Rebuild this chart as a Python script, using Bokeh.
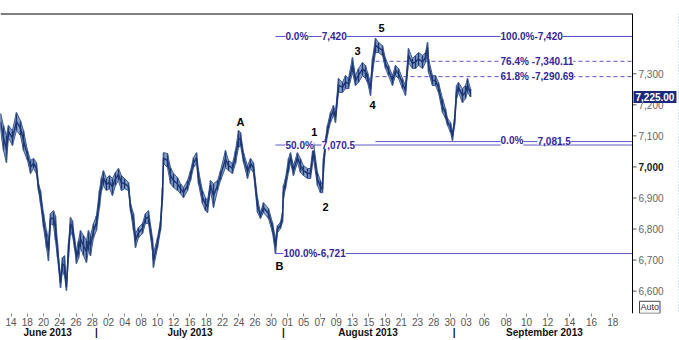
from bokeh.plotting import figure
from bokeh.models import FixedTicker, LinearAxis, Label, Span, Range1d
from bokeh.core.properties import value
from bokeh.embed import file_html
from bokeh.resources import INLINE

# ---- price data (trading-day index from 14 June 2013, high / low) ----
t = [-1.30, -0.93, -0.57, -0.32, 0.17, 0.66, 1.16, 1.53, 2.02, 2.39,
     2.76, 3.12, 3.37, 3.62, 3.99, 4.35, 4.60, 4.85, 5.22, 5.46,
     5.71, 6.08, 6.32, 6.57, 6.81, 7.06, 7.31, 7.55, 7.80, 8.04,
     8.29, 8.54, 8.91, 9.27, 9.52, 9.77, 10.14, 10.50, 10.87, 11.12,
     11.36, 11.73, 12.10, 12.47, 12.84, 13.21, 13.58, 13.95, 14.44, 14.69,
     15.06, 15.30, 15.67, 16.16, 16.53, 16.90, 17.39, 17.51, 18.01, 18.38,
     18.62, 18.75, 19.24, 19.61, 19.98, 20.47, 20.84, 21.21, 21.70, 22.07,
     22.44, 22.81, 23.05, 23.54, 23.91, 24.16, 24.53, 24.90, 25.39, 25.76,
     26.37, 26.74, 27.23, 27.60, 27.97, 28.22, 28.59, 29.08, 29.45, 29.81,
     30.31, 30.67, 31.04, 31.66, 32.15, 32.52, 32.77, 33.13, 33.38, 33.50,
     33.75, 34.12, 34.37, 34.73, 35.22, 35.59, 35.96, 36.45, 36.82, 37.19,
     37.68, 38.05, 38.30, 38.42, 38.67, 38.91, 39.28, 39.65, 39.90, 40.27,
     40.76, 41.13, 41.50, 41.99, 42.36, 42.73, 43.22, 43.59, 43.84, 44.21,
     44.45, 44.82, 45.19, 45.68, 46.05, 46.42, 46.91, 47.28, 47.65, 48.14,
     48.51, 48.88, 49.37, 49.74, 50.11, 50.60, 50.97, 51.22, 51.34, 51.83,
     52.20, 52.57, 53.06, 53.43, 53.68, 54.05, 54.29, 54.54, 54.79, 55.03,
     55.52, 55.89, 56.14, 56.51]
hi = [7172, 7133, 7101, 7133, 7117, 7175, 7149, 7117, 7053, 7021,
      7027, 7014, 6946, 6924, 6850, 6795, 6763, 6850, 6859, 6843,
      6753, 6644, 6708, 6714, 6624, 6753, 6837, 6827, 6772, 6731,
      6763, 6795, 6779, 6763, 6795, 6779, 6818, 6843, 6924, 6966,
      6988, 6963, 6972, 6963, 6982, 6995, 6972, 6963, 6950, 6882,
      6850, 6785, 6805, 6818, 6850, 6859, 6772, 6721, 6772, 6827,
      6934, 7046, 7043, 6998, 6979, 6966, 6946, 6934, 6956, 6988,
      7030, 7046, 6988, 6924, 6901, 6892, 6956, 6946, 6956, 6988,
      7053, 7021, 7011, 7053, 7117, 7111, 7046, 7004, 7027, 7014,
      6898, 6853, 6885, 6866, 6821, 6769, 6811, 6821, 6853, 6940,
      6963, 7027, 7046, 7004, 7046, 7027, 7004, 6995, 6995, 7079,
      6982, 6956, 6940, 7027, 7091, 7133, 7175, 7198, 7175, 7285,
      7272, 7294, 7285, 7352, 7294, 7317, 7336, 7327, 7304, 7272,
      7349, 7414, 7401, 7391, 7349, 7327, 7294, 7327, 7317, 7285,
      7262, 7381, 7349, 7359, 7368, 7359, 7368, 7401, 7349, 7294,
      7294, 7272, 7220, 7188, 7156, 7143, 7111, 7156, 7262, 7272,
      7252, 7262, 7285, 7252]
lo = [7117, 7053, 7014, 7095, 7069, 7117, 7101, 7053, 7021, 6979,
      6995, 6979, 6924, 6882, 6805, 6740, 6698, 6818, 6811, 6763,
      6708, 6611, 6666, 6650, 6602, 6708, 6795, 6779, 6740, 6689,
      6705, 6740, 6714, 6692, 6731, 6714, 6772, 6795, 6869, 6924,
      6940, 6924, 6930, 6908, 6940, 6956, 6924, 6930, 6924, 6859,
      6795, 6740, 6772, 6785, 6818, 6818, 6731, 6676, 6740, 6795,
      6892, 7011, 6998, 6946, 6934, 6924, 6914, 6901, 6924, 6956,
      6998, 7011, 6946, 6882, 6859, 6853, 6924, 6869, 6924, 6956,
      6998, 6988, 6979, 7011, 7062, 7069, 7014, 6963, 6995, 6982,
      6853, 6834, 6853, 6834, 6789, 6721, 6789, 6801, 6821, 6898,
      6930, 6982, 7014, 6972, 7014, 6982, 6972, 6963, 6963, 7027,
      6940, 6917, 6917, 6982, 7059, 7101, 7143, 7166, 7143, 7240,
      7240, 7252, 7252, 7304, 7262, 7272, 7294, 7285, 7272, 7230,
      7304, 7368, 7368, 7359, 7317, 7294, 7262, 7294, 7285, 7252,
      7230, 7336, 7317, 7317, 7327, 7317, 7336, 7368, 7304, 7262,
      7262, 7240, 7175, 7156, 7133, 7111, 7085, 7133, 7220, 7240,
      7207, 7220, 7240, 7225]
n = min(len(t), len(hi), len(lo))
t, hi, lo = t[:n], hi[:n], lo[:n]
mid = [(a + b) / 2 for a, b in zip(hi, lo)]

last_price = 7225.00

# ---- x-axis ticks ----
tick_t = [0, 2, 4, 6, 8, 10, 12, 14, 16, 18, 20, 22, 24, 26, 28, 30, 32, 34,
          36, 38, 40, 42, 44, 46, 48, 50, 52, 54, 56,
          58.2, 60.9, 63.4, 66.0, 68.7, 71.4, 74.0]
tick_labels = ["14", "18", "20", "24", "26", "28", "02", "04", "08", "10", "12",
               "16", "18", "22", "24", "26", "30", "01", "05", "07", "09", "13",
               "15", "19", "21", "23", "28", "30", "03", "06", "08", "10", "12",
               "14", "16", "18"]
month_t = [4.5, 22.0, 43.9, 65.6]
month_labels = ["June 2013", "July 2013", "August 2013", "September 2013"]
month_sep_t = [10.5, 33.5, 54.5]

# ---- price-scale ticks ----
y_ticks = [6600, 6700, 6800, 6900, 7000, 7100, 7200, 7300]
y_bold = [7000]

# ---- Fibonacci levels ----
fib1_start = 32.52          # from B
fib1_levels = [7420, 7070.5, 6721]
fib2_start = 44.82          # from 5
fib2_levels = [7420, 7340.11, 7290.69, 7081.5]
fib2_dashed = [False, True, True, False]

# ---- wave labels ----
wave_labels = ["A", "B", "1", "2", "3", "4", "5"]
wave_t = [28.22, 33.0, 37.3, 38.67, 42.6, 44.45, 45.56]
wave_p = [7146, 6682, 7114, 6872, 7372, 7198, 7446]

X0, XA = -1.30, 76.43            # left edge, price-scale line
XR = X0 + (XA - X0) * 679 / 632  # canvas right edge
Y0, Y1 = 6528, 7494

NAVY = "#1d3775"
BAND = "#8aa3c9"
FIB_LINE = "#5c54cc"
FIB_TEXT = "#33289a"
FONT = "Liberation Sans"

p = figure(width=679, height=340, output_backend="svg", toolbar_location=None,
           x_range=Range1d(X0, XR), y_range=Range1d(Y0, Y1),
           y_axis_location=None,
           min_border_left=0, min_border_top=13, min_border_right=0,
           min_border_bottom=27)
p.xgrid.visible = False
p.ygrid.visible = False
p.outline_line_color = None
p.background_fill_color = "white"
p.border_fill_color = "white"

# frame: top border and price-scale line
p.segment(x0=[X0], y0=[Y1], x1=[XA], y1=[Y1], line_color="black", line_width=2)
p.add_layout(Span(location=XA, dimension="height", line_color="black", line_width=1))
p.add_layout(Span(location=XR - 0.12, dimension="height", line_color="#a8dde6",
                  line_width=1, line_dash="1 2"))

# Fibonacci lines
p.segment(x0=[fib1_start] * len(fib1_levels), y0=fib1_levels,
          x1=[XA] * len(fib1_levels), y1=fib1_levels, line_color=FIB_LINE, line_width=1)
for lv, d in zip(fib2_levels, fib2_dashed):
    p.segment(x0=[fib2_start], y0=[lv], x1=[XA], y1=[lv], line_color=FIB_LINE,
              line_width=1, line_dash="4 3" if d else "solid")

# price
p.varea(x=t, y1=lo, y2=hi, fill_color=BAND)
p.segment(x0=t, y0=lo, x1=t, y1=hi, line_color=NAVY, line_width=1.5)
p.line(t, hi, line_color="#3d5a96", line_width=1)
p.line(t, lo, line_color="#3d5a96", line_width=1)
p.line(t, mid, line_color=NAVY, line_width=1.5)


def flabel(x, y, text):
    p.add_layout(Label(x=x, y=y, text=text, text_font=FONT, text_font_size="10px",
                       text_font_style="bold", text_color=FIB_TEXT,
                       text_baseline="middle", text_align="left",
                       background_fill_color="white"))


flabel(33.75, fib1_levels[0], "0.0%")
flabel(38.2, fib1_levels[0], "7,420")
flabel(33.75, fib1_levels[1], "50.0%")
flabel(38.2, fib1_levels[1], "7,070.5")
flabel(33.5, fib1_levels[2], "100.0%-6,721")
flabel(60.2, fib2_levels[0], "100.0%-7,420")
flabel(60.2, fib2_levels[1], "76.4% -7,340.11")
flabel(60.2, fib2_levels[2], "61.8% -7,290.69")
flabel(60.2, fib2_levels[3] + 3, "0.0%")
flabel(64.75, fib2_levels[3] + 3, "7,081.5")

for lab, wt, wp in zip(wave_labels, wave_t, wave_p):
    p.add_layout(Label(x=wt, y=wp, text=lab, text_font=FONT, text_font_size="11px",
                       text_font_style="bold", text_color="black",
                       text_align="center", text_baseline="middle"))

# price scale on the right (ticks + labels)
p.ray(x=[XA] * len(y_ticks), y=y_ticks, length=4, length_units="screen", angle=0,
      line_color="#555555", line_width=1)
norm = [v for v in y_ticks if v not in y_bold]
p.text(x=[XA] * len(norm), y=norm, text=[f"{v:,}" for v in norm], x_offset=6,
       text_font=value(FONT), text_font_size="10px", text_color="#666666",
       text_align="left", text_baseline="middle")
p.text(x=[XA] * len(y_bold), y=y_bold, text=[f"{v:,}" for v in y_bold], x_offset=6,
       text_font=value(FONT), text_font_size="10px", text_font_style="bold",
       text_color="#1a1a1a", text_align="left", text_baseline="middle")

price_box = dict(x=XA, y=last_price, text=f"{last_price:,.2f}", text_font=FONT,
                 text_font_size="10px", text_font_style="bold", text_color="white",
                 background_fill_color="#1b2a7c", text_align="left",
                 text_baseline="middle", x_offset=1)
try:
    p.add_layout(Label(padding=2, **price_box))
except Exception:
    p.add_layout(Label(**price_box))

auto_box = dict(x=XA, y=6548, x_offset=7, text="Auto", text_font=FONT,
                text_font_size="9px", text_color="#333333",
                border_line_color="#444444", background_fill_color="white",
                text_align="left", text_baseline="middle")
try:
    p.add_layout(Label(padding=1, **auto_box))
except Exception:
    p.add_layout(Label(**auto_box))

# bottom axes
xa = p.xaxis[0]
xa.ticker = FixedTicker(ticks=tick_t)
xa.major_label_overrides = {k: v for k, v in zip(tick_t, tick_labels)}
xa.axis_line_color = None
xa.major_tick_out = 3
xa.major_tick_in = 0
xa.major_tick_line_color = "#888888"
xa.minor_tick_line_color = None
xa.major_label_standoff = 1
xa.major_label_text_font = FONT
xa.major_label_text_font_size = "10px"
xa.major_label_text_color = "#555555"

ma = LinearAxis(ticker=FixedTicker(ticks=month_t + month_sep_t))
ov = {k: v for k, v in zip(month_t, month_labels)}
ov.update({k: "|" for k in month_sep_t})
ma.major_label_overrides = ov
ma.axis_line_color = None
ma.major_tick_line_color = None
ma.minor_tick_line_color = None
ma.major_tick_out = 0
ma.major_tick_in = 0
ma.major_label_standoff = -2
ma.major_label_text_font = FONT
ma.major_label_text_font_size = "10px"
ma.major_label_text_font_style = "bold"
ma.major_label_text_color = "#111111"
p.add_layout(ma, "below")

open("out.html", "w").write(file_html(p, INLINE))
